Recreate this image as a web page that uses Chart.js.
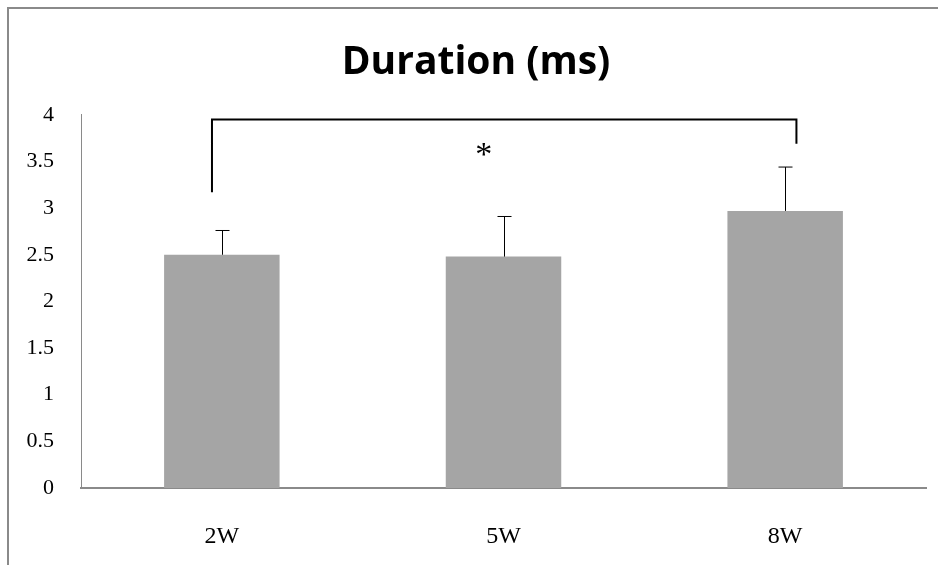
<!DOCTYPE html>
<html>
<head>
<meta charset="utf-8">
<script src="https://cdn.jsdelivr.net/npm/chart.js@4.4.1/dist/chart.umd.min.js"></script>
<style>
  html, body { margin: 0; padding: 0; background: #fff; }
  #wrap { width: 938px; height: 565px; }
</style>
</head>
<body>
<div id="wrap"><canvas id="durationChart" width="938" height="565"></canvas></div>
<script>
// data ---------------------------------------------
const weeks = ["2W", "5W", "8W"];
const durationMean = [2.50, 2.48, 2.97];
const durationErr = [0.26, 0.43, 0.47];
const yMin = 0;
const yMax = 4;
const yStep = 0.5;

// significance bracket (2W vs 8W)
const bracketIdx = [-0.035, 2.04];
const bracketTop = 3.95;
const bracketLegs = [3.17, 3.69];
const starIdx = 0.93;
const starValue = 3.63;

// error bars + bracket + frame
const extras = {
  id: "extras",
  beforeDraw(chart) {
    const ctx = chart.ctx;
    ctx.save();
    ctx.strokeStyle = "#8a8a8a";
    ctx.lineWidth = 2;
    ctx.beginPath();
    ctx.moveTo(8, 565);
    ctx.lineTo(8, 8);
    ctx.lineTo(938, 8);
    ctx.stroke();
    ctx.restore();
  },
  afterDatasetsDraw(chart) {
    const ctx = chart.ctx;
    const x = chart.scales.x;
    const y = chart.scales.y;
    ctx.save();

    // error bars (upper only)
    ctx.strokeStyle = "#000";
    ctx.lineWidth = 1;
    durationMean.forEach((m, i) => {
      const px = Math.round(x.getPixelForValue(i)) + 0.5;
      const top = y.getPixelForValue(m + durationErr[i]);
      const base = y.getPixelForValue(m);
      ctx.beginPath();
      ctx.moveTo(px, base);
      ctx.lineTo(px, top);
      ctx.moveTo(px - 7, top);
      ctx.lineTo(px + 7, top);
      ctx.stroke();
    });

    // bracket
    ctx.lineWidth = 2;
    const xl = x.getPixelForValue(bracketIdx[0]);
    const xr = x.getPixelForValue(bracketIdx[1]);
    const yt = y.getPixelForValue(bracketTop);
    ctx.beginPath();
    ctx.moveTo(xl, y.getPixelForValue(bracketLegs[0]));
    ctx.lineTo(xl, yt);
    ctx.lineTo(xr, yt);
    ctx.lineTo(xr, y.getPixelForValue(bracketLegs[1]));
    ctx.stroke();

    // asterisk
    ctx.fillStyle = "#000";
    ctx.font = "34px 'Liberation Serif'";
    ctx.textAlign = "center";
    ctx.textBaseline = "alphabetic";
    const mt = ctx.measureText("*");
    const sy = y.getPixelForValue(starValue) + (mt.actualBoundingBoxAscent - mt.actualBoundingBoxDescent) / 2;
    ctx.fillText("*", x.getPixelForValue(starIdx), sy);
    ctx.restore();
  },
};

const canvas = document.getElementById("durationChart");

const chart = new Chart(canvas, {
  type: "bar",
  data: {
    labels: weeks,
    datasets: [
      {
        label: "Duration",
        data: durationMean,
        backgroundColor: "#a5a5a5",
        borderWidth: 0,
        barPercentage: 0.41,
        categoryPercentage: 1,
      },
    ],
  },
  options: {
    responsive: false,
    animation: false,
    layout: { padding: { left: 26, right: 12, top: 0, bottom: 0 } },
    plugins: {
      legend: { display: false },
      tooltip: { enabled: false },
      title: {
        display: true,
        text: "Duration (ms)",
        color: "#000",
        font: { family: "'Open Sans'", size: 39, weight: "bold", lineHeight: 1.2 },
        padding: { top: 39, bottom: 29 },
      },
    },
    scales: {
      x: {
        grid: { display: false },
        border: { display: true, color: "#8a8a8a", width: 2 },
        ticks: {
          color: "#000",
          font: { family: "'Liberation Serif'", size: 24 },
          padding: 26,
        },
        afterFit(scale) {
          scale.height = 77;
        },
      },
      y: {
        min: yMin,
        max: yMax,
        grid: { display: false },
        border: { display: true, color: "#8a8a8a", width: 1 },
        ticks: {
          stepSize: yStep,
          color: "#000",
          font: { family: "'Liberation Serif'", size: 22 },
          padding: 19,
          callback: (v) => String(v),
        },
        afterFit(scale) {
          scale.width = 55;
        },
      },
    },
  },
  plugins: [extras],
});
</script>
</body>
</html>
